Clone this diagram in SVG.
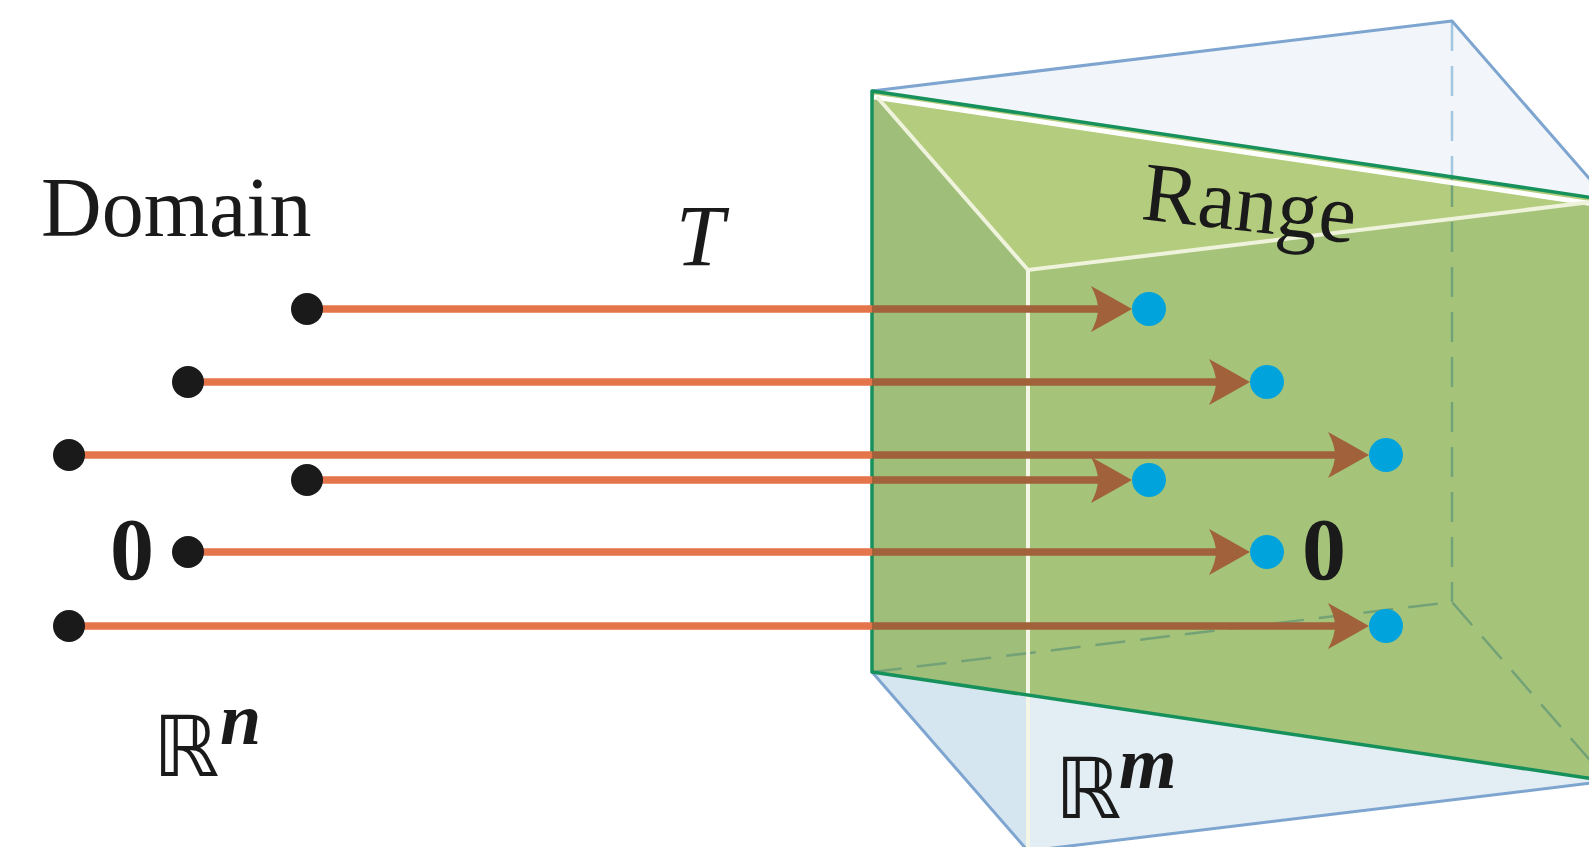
<svg xmlns="http://www.w3.org/2000/svg" width="1589" height="847" viewBox="0 0 1589 847">
<defs>
<style>
.serif{font-family:"Liberation Serif","Times New Roman",serif;fill:#1a1a1a}
.bb{font-family:"DejaVu Sans",sans-serif;fill:#1a1a1a}
.blue{fill:none;stroke:#7ea5d0;stroke-width:3;stroke-linejoin:round}
.grn{fill:none;stroke:#17915c;stroke-width:3.5;stroke-linejoin:round}
.wht{fill:none;stroke:#eff3dc;stroke-width:4}
.dg{fill:none;stroke:#74a277;stroke-width:2.5;stroke-dasharray:30 15}
.db{fill:none;stroke:#a3c7e0;stroke-width:2.5;stroke-dasharray:30 15}
.shaft{fill:none;stroke:url(#sg);stroke-width:7.5}
.src{fill:#1a1a1a}
.dst{fill:#00a3dc}
</style>
<linearGradient id="sg" gradientUnits="userSpaceOnUse" x1="0" y1="0" x2="1589" y2="0">
<stop offset="0" stop-color="#e4744a"/>
<stop offset="0.5488" stop-color="#e4744a"/>
<stop offset="0.5488" stop-color="#a0613b"/>
<stop offset="1" stop-color="#a0613b"/>
</linearGradient>
<marker id="ah" markerUnits="userSpaceOnUse" markerWidth="50" markerHeight="50" viewBox="-45 -25 50 50" refX="-20" refY="0" orient="auto" overflow="visible">
<path d="M0,0 Q-21,-12 -41,-23 Q-34,-10 -34,0 Q-34,10 -41,23 Q-21,12 0,0Z" fill="#a0613b"/>
</marker>
</defs>
<rect width="1589" height="847" fill="#ffffff"/>

<g id="range-space">
<polygon points="872,91 1452,21 1608,200 1028,270" fill="#f2f6fa"/>
<polygon points="872,672 1452,602 1608,781 1028,851" fill="#e2edf4"/>
<polygon points="872,672 1028,695 1028,851" fill="#d5e6f0"/>
<polygon points="872,91 1608,200 1608,781 872,672" fill="#a5c47a"/>
<polygon points="872,91 1608,200 1028,270" fill="#b4cc7d"/>
<polygon points="872,91 1028,270 1028,695 872,672" fill="#9ebe79"/>
<polyline class="db" points="1452,21 1452,177"/>
<polyline class="dg" points="1452,177 1452,602"/>
<polyline class="dg" points="872,672 1452,602 1608,781"/>
<line x1="874" y1="97" x2="1608" y2="206" stroke="#ffffff" stroke-width="5"/>
<polyline class="wht" points="877,97 1028,270 1608,200"/>
<line x1="1028" y1="270" x2="1028" y2="847" stroke="#f3f6e4" stroke-width="4"/>
<polyline class="blue" points="872,91 1452,21 1608,200"/>
<polyline class="blue" points="872,672 1028,851 1608,781"/>
<polyline class="grn" points="1608,200 872,91 872,672 1608,781"/>
</g>

<g id="connectors">
<line class="shaft" x1="307" y1="309" x2="1112" y2="309" marker-end="url(#ah)"/>
<line class="shaft" x1="188" y1="382" x2="1230" y2="382" marker-end="url(#ah)"/>
<line class="shaft" x1="69" y1="455" x2="1349" y2="455" marker-end="url(#ah)"/>
<line class="shaft" x1="307" y1="480" x2="1112" y2="480" marker-end="url(#ah)"/>
<line class="shaft" x1="188" y1="552" x2="1230" y2="552" marker-end="url(#ah)"/>
<line class="shaft" x1="69" y1="626" x2="1349" y2="626" marker-end="url(#ah)"/>
</g>

<g id="domain-points">
<circle class="src" cx="307" cy="309" r="16"/>
<circle class="src" cx="188" cy="382" r="16"/>
<circle class="src" cx="69" cy="455" r="16"/>
<circle class="src" cx="307" cy="480" r="16"/>
<circle class="src" cx="188" cy="552" r="16"/>
<circle class="src" cx="69" cy="626" r="16"/>
</g>

<g id="range-points">
<circle class="dst" cx="1149" cy="309" r="17"/>
<circle class="dst" cx="1267" cy="382" r="17"/>
<circle class="dst" cx="1386" cy="455" r="17"/>
<circle class="dst" cx="1149" cy="480" r="17"/>
<circle class="dst" cx="1267" cy="552" r="17"/>
<circle class="dst" cx="1386" cy="626" r="17"/>
</g>

<g id="labels">
<text class="serif" x="41" y="236" font-size="84">Domain</text>
<text class="serif" x="700" y="265" font-size="87" font-style="italic" text-anchor="middle">T</text>
<text class="serif" x="1140" y="219" font-size="84" transform="rotate(6.5 1140 219)">Range</text>
<text class="serif" x="132" y="579" font-size="88" font-weight="bold" text-anchor="middle">0</text>
<text class="serif" x="1324" y="579" font-size="88" font-weight="bold" text-anchor="middle">0</text>
<text class="bb" x="153" y="776" font-size="84">ℝ</text>
<text class="serif" x="220" y="744" font-size="74" font-weight="bold" font-style="italic">n</text>
<text class="bb" x="1055" y="818" font-size="84">ℝ</text>
<text class="serif" x="1119" y="788" font-size="74" font-weight="bold" font-style="italic">m</text>
</g>
</svg>
